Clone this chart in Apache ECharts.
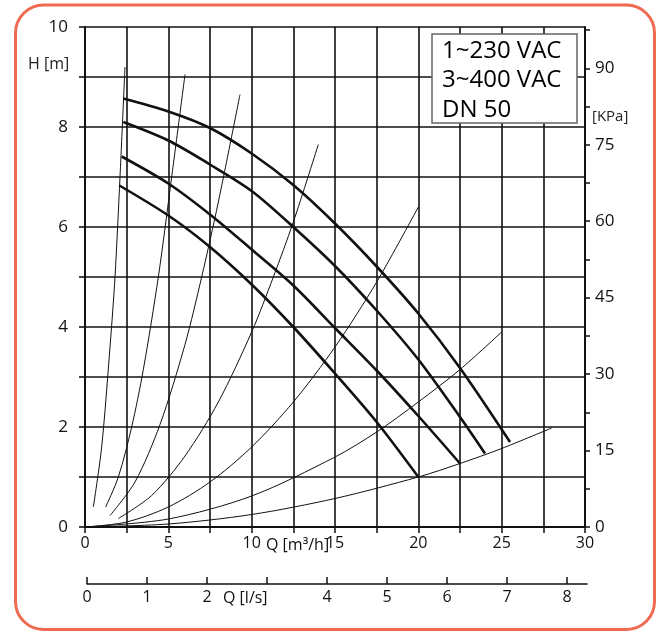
<!DOCTYPE html>
<html><head><meta charset="utf-8">
<script src="https://cdn.jsdelivr.net/npm/echarts@6/dist/echarts.min.js"></script>
<style>html,body{margin:0;padding:0;background:#fff}#c{width:662px;height:632px}</style>
</head><body><div id="c"></div>
<script>
// Pump curves (Q m3/h, H m)
const pump1 = [[2.3,8.57],[5,8.31],[7.5,7.98],[10,7.47],[12.5,6.84],[15,6.07],[17.5,5.21],[20,4.27],[22.5,3.18],[25.5,1.7]];
const pump2 = [[2.3,8.1],[5,7.73],[7.5,7.25],[10,6.72],[12.5,6.0],[15,5.22],[17.5,4.33],[20,3.35],[22.5,2.2],[24,1.47]];
const pump3 = [[2.2,7.41],[5,6.87],[7.5,6.25],[10,5.55],[12.5,4.83],[15,3.98],[17.5,3.13],[20,2.22],[22.5,1.27]];
const pump4 = [[2.06,6.83],[5,6.23],[7.5,5.6],[10,4.85],[12.5,4.0],[15,3.07],[17.5,2.1],[20,1.0]];
// System curves
const sys1 = [[0.5,0.4],[1.0,1.6],[1.5,3.6],[1.8,5.0],[2.1,7.0],[2.4,9.2]];
const sys2 = [[1.24,0.4],[2.0,1.0],[2.8,2.0],[3.5,3.15],[4.4,5.0],[5.2,7.0],[6.0,9.05]];
const sys3 = [[1.5,0.23],[3.0,0.9],[4.5,2.05],[6.0,3.65],[7.0,5.0],[8.0,6.5],[9.3,8.65]];
const sys4 = [[2.0,0.17],[4.0,0.63],[6.0,1.42],[8.0,2.5],[10.0,3.9],[11.3,5.0],[12.5,6.1],[14.0,7.65]];
const sys5 = [[0,0],[2.5,0.1],[5,0.4],[7.5,0.9],[10,1.6],[12.5,2.5],[15,3.6],[17.5,4.9],[20,6.4]];
const sys6 = [[0,0],[5,0.16],[10,0.62],[15,1.4],[17.5,1.9],[20,2.5],[22.5,3.15],[25,3.9]];
const sys7 = [[0,0],[5,0.06],[10,0.25],[15,0.57],[20,1.0],[22.5,1.27],[25,1.57],[28,1.98]];
// Ticks / labels
const qLabels = [0,5,10,15,20,25,30];
const hLabels = [0,2,4,6,8,10];
const kpaTicks = [0,7.5,15,22.5,30,37.5,45,52.5,60,67.5,75,82.5,90,97.5];
const kpaLabels = [0,15,30,45,60,75,90];
const lsTicks = [0,1,2,3,4,5,6,7,8];
const lsLabels = [0,1,2,4,5,6,7,8];
const legendLines = ['1~230 VAC','3~400 VAC','DN 50'];

const FONT = '"Open Sans", "Noto Sans", sans-serif';
const BLK = '#111';
const chart = echarts.init(document.getElementById('c'));
const pumps = [pump1,pump2,pump3,pump4];
const systems = [sys1,sys2,sys3,sys4,sys5,sys6,sys7];
const series = [];
systems.forEach(d => series.push({type:'line', xAxisIndex:0, yAxisIndex:0, data:d, showSymbol:false, smooth:0.3, lineStyle:{color:BLK,width:1}, silent:true}));
pumps.forEach(d => series.push({type:'line', xAxisIndex:0, yAxisIndex:0, data:d, showSymbol:false, smooth:0.3, lineStyle:{color:BLK,width:2.6}, silent:true}));

chart.setOption({
  animation:false,
  backgroundColor:'#fff',
  grid:[{left:85, top:27, width:500, height:500},{left:87, top:570, width:500, height:14}],
  xAxis:[
    {gridIndex:0, type:'value', min:0, max:30, interval:2.5,
     axisLine:{show:true, lineStyle:{color:BLK,width:2}},
     axisTick:{show:true, length:6, lineStyle:{color:BLK,width:1.5}},
     axisLabel:{customValues:qLabels, fontSize:16, color:BLK, fontFamily:FONT, margin:8},
     splitLine:{show:true, lineStyle:{color:BLK,width:1.6}}},
    {gridIndex:1, type:'value', min:0, max:500/60, position:'bottom',
     axisLine:{show:true, lineStyle:{color:BLK,width:1.5}},
     axisTick:{show:true, inside:true, length:7, customValues:lsTicks, lineStyle:{color:BLK,width:1.5}},
     axisLabel:{customValues:lsLabels, fontSize:16, color:BLK, fontFamily:FONT, margin:5},
     splitLine:{show:false}}
  ],
  yAxis:[
    {gridIndex:0, type:'value', min:0, max:10, interval:1, position:'left',
     axisLine:{show:true, lineStyle:{color:BLK,width:2}},
     axisTick:{show:true, length:6, lineStyle:{color:BLK,width:1.6}},
     axisLabel:{customValues:hLabels, fontSize:17, color:BLK, fontFamily:FONT, margin:17},
     splitLine:{show:true, lineStyle:{color:BLK,width:1.6}}},
    {gridIndex:0, type:'value', min:0, max:98.1, position:'right',
     axisLine:{show:true, lineStyle:{color:BLK,width:2}},
     axisTick:{show:true, length:5, customValues:kpaTicks, lineStyle:{color:BLK,width:1.5}},
     axisLabel:{customValues:kpaLabels, fontSize:17, color:BLK, fontFamily:FONT, margin:10},
     splitLine:{show:false}},
    {gridIndex:1, type:'value', show:false}
  ],
  graphic:[
    {type:'rect', shape:{x:15.5, y:5, width:639, height:624.5, r:28}, style:{fill:'none', stroke:'#EE6B52', lineWidth:3}, silent:true, z:-10},
    {type:'rect', shape:{x:432, y:34, width:145, height:89}, style:{fill:'#fff', stroke:'#666', lineWidth:1.5}, z:100},
    ...legendLines.map((t,i)=>({type:'text', x:442, y:51+i*29.5, z:101, style:{text:t, font:'24px '+FONT, fill:'#000', verticalAlign:'middle', align:'left'}})),
    {type:'text', x:28, y:64, style:{text:'H [m]', font:'16px '+FONT, fill:'#222', verticalAlign:'middle'}},
    {type:'text', x:592, y:117, style:{text:'[KPa]', font:'15px '+FONT, fill:'#222', verticalAlign:'middle'}},
    {type:'text', x:266, y:545, style:{text:'Q [m³/h]', font:'16px '+FONT, fill:'#111', verticalAlign:'middle'}},
    {type:'text', x:223, y:598, style:{text:'Q [l/s]', font:'16px '+FONT, fill:'#111', verticalAlign:'middle'}}
  ],
  series: series
});
</script></body></html>
